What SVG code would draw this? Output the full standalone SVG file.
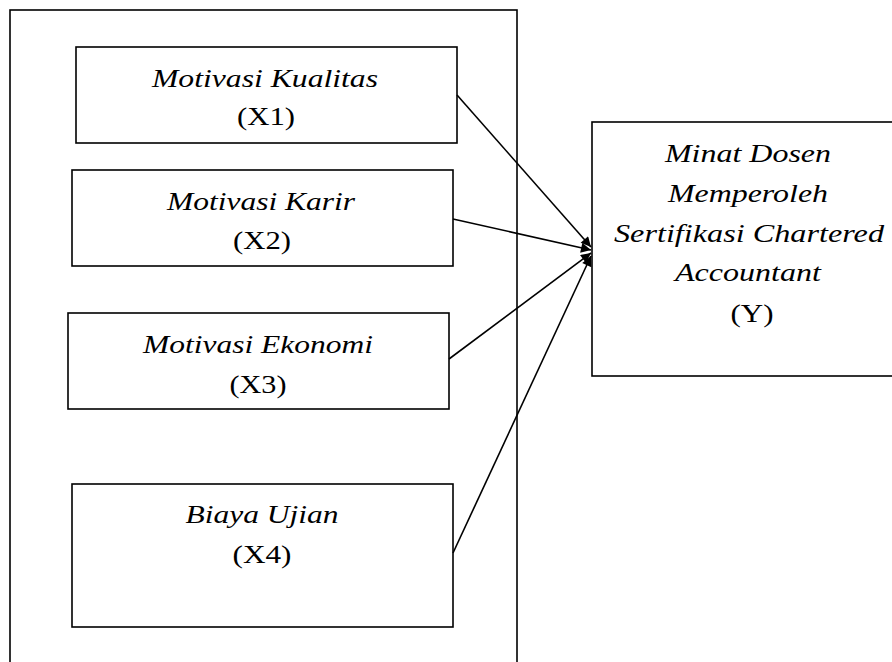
<svg xmlns="http://www.w3.org/2000/svg" width="892" height="662" viewBox="0 0 892 662">
<defs>
<style>
.box{fill:#fff;stroke:#000;stroke-width:1.6}
.outer{fill:none;stroke:#000;stroke-width:1.6}
.t{font-family:"Liberation Serif","Times New Roman",serif;font-size:26px;fill:#000;text-anchor:middle}
.i{font-style:italic}
.c{stroke:#000;stroke-width:1.6;fill:none;marker-end:url(#ah)}
</style>
<marker id="ah" viewBox="0 0 10 10" refX="10" refY="5" markerWidth="12" markerHeight="10" markerUnits="userSpaceOnUse" orient="auto">
<path d="M0,0 L10,5 L0,10 z" fill="#000"/>
</marker>
</defs>
<rect class="outer" x="10" y="10" width="507" height="670"/>
<g id="x1">
<rect class="box" x="76" y="47" width="381" height="96"/>
<text class="t i" x="265" y="87" textLength="226" lengthAdjust="spacingAndGlyphs">Motivasi Kualitas</text>
<text class="t" x="266" y="125" textLength="58" lengthAdjust="spacingAndGlyphs">(X1)</text>
</g>
<g id="x2">
<rect class="box" x="72" y="170" width="381" height="96"/>
<text class="t i" x="261" y="210" textLength="188" lengthAdjust="spacingAndGlyphs">Motivasi Karir</text>
<text class="t" x="262" y="249" textLength="58" lengthAdjust="spacingAndGlyphs">(X2)</text>
</g>
<g id="x3">
<rect class="box" x="68" y="313" width="381" height="96"/>
<text class="t i" x="258" y="353" textLength="230" lengthAdjust="spacingAndGlyphs">Motivasi Ekonomi</text>
<text class="t" x="258" y="393" textLength="57" lengthAdjust="spacingAndGlyphs">(X3)</text>
</g>
<g id="x4">
<rect class="box" x="72" y="484" width="381" height="143"/>
<text class="t i" x="262" y="523" textLength="153" lengthAdjust="spacingAndGlyphs">Biaya Ujian</text>
<text class="t" x="262" y="563" textLength="59" lengthAdjust="spacingAndGlyphs">(X4)</text>
</g>
<g id="y">
<rect class="box" x="592" y="122" width="310" height="254"/>
<text class="t i" x="748" y="162" textLength="166" lengthAdjust="spacingAndGlyphs">Minat Dosen</text>
<text class="t i" x="748" y="202" textLength="160" lengthAdjust="spacingAndGlyphs">Memperoleh</text>
<text class="t i" x="749" y="242" textLength="270" lengthAdjust="spacingAndGlyphs">Sertifikasi Chartered</text>
<text class="t i" x="748" y="281" textLength="146" lengthAdjust="spacingAndGlyphs">Accountant</text>
<text class="t" x="752" y="322" textLength="43" lengthAdjust="spacingAndGlyphs">(Y)</text>
</g>
<g id="connectors">
<line class="c" x1="457" y1="95" x2="591" y2="247"/>
<line class="c" x1="453" y1="219" x2="591" y2="250"/>
<line class="c" x1="449" y1="359" x2="591" y2="253"/>
<line class="c" x1="453" y1="553" x2="591" y2="256"/>
</g>
</svg>
